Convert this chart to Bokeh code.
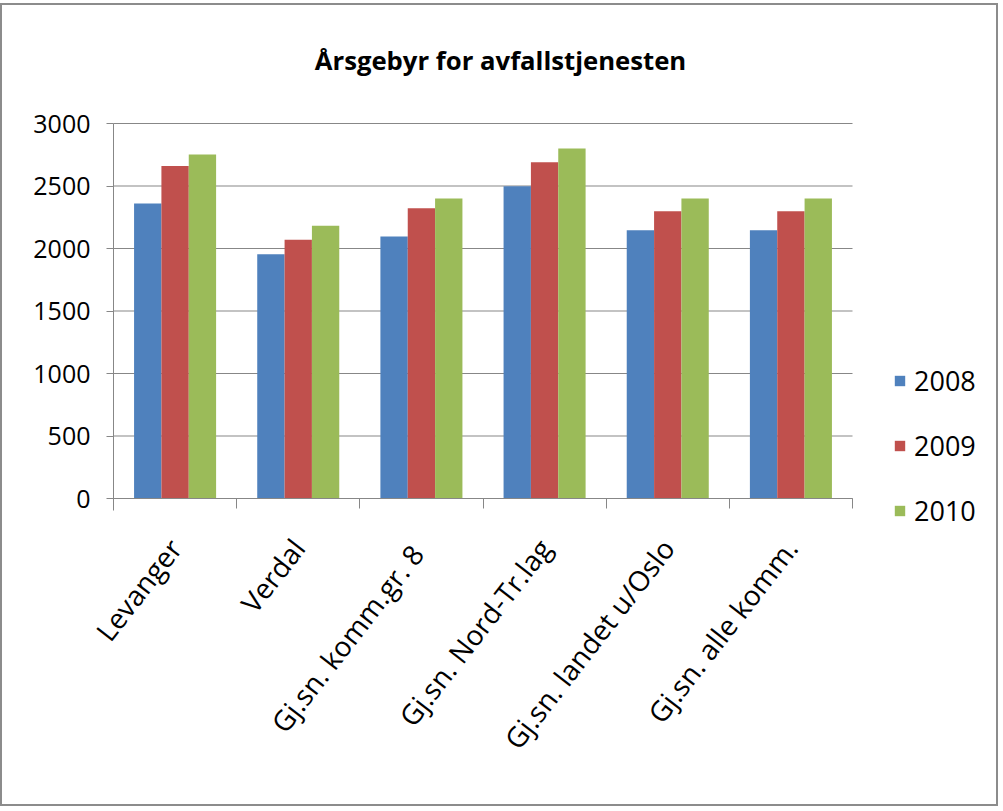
from bokeh.plotting import figure
from bokeh.models import (ColumnDataSource, Range1d, LinearAxis, FixedTicker,
                          Legend, LegendItem, Label)
from bokeh.transform import dodge
from bokeh.embed import file_html
from bokeh.resources import INLINE

categories = ["Levanger", "Verdal", "Gj.sn. komm.gr.  8", "Gj.sn. Nord-Tr.lag",
              "Gj.sn. landet u/Oslo", "Gj.sn. alle komm."]
years = ["2008", "2009", "2010"]
v2008 = [2360, 1955, 2097, 2499, 2147, 2147]
v2009 = [2660, 2070, 2323, 2691, 2299, 2299]
v2010 = [2752, 2182, 2400, 2800, 2400, 2400]
colors = ["#4F81BD", "#C0504D", "#9BBB59"]
y_ticks = [0, 500, 1000, 1500, 2000, 2500, 3000]
title_text = "Årsgebyr for avfallstjenesten"

FONT = "Open Sans"
GREY = "#878787"

n = len(categories)
centers = [i + 0.5 for i in range(n)]
src = ColumnDataSource(dict(x=centers, cat=categories, y2008=v2008, y2009=v2009, y2010=v2010))

# Layout geometry (pixels): the frame covers the whole canvas so that axis labels,
# legend and title are never clipped; the plotting area itself spans 111..850 x 118..493.
W, H = 998, 803
PX_PER_CAT = 739 / 6
PX_PER_UNIT_Y = 1 / 8
x0_px, y0_px = 111, 493

p = figure(width=W, height=H, output_backend="svg", toolbar_location=None,
           x_range=Range1d(-x0_px / PX_PER_CAT, (W - x0_px) / PX_PER_CAT),
           y_range=Range1d(-(H - y0_px) / PX_PER_UNIT_Y, y0_px / PX_PER_UNIT_Y),
           x_axis_location=None, y_axis_location=None,
           min_border_left=0, min_border_right=0, min_border_top=0, min_border_bottom=0)
p.background_fill_color = "white"
p.border_fill_color = "white"
p.outline_line_color = None
p.styles = {"border": "2px solid #8c8c8c", "margin-top": "3px"}
p.xgrid.visible = False
p.ygrid.visible = False

# title
p.add_layout(Label(x=(498 - x0_px) / PX_PER_CAT, y=(y0_px - 55) / PX_PER_UNIT_Y,
                   text=title_text, text_font=FONT, text_font_size="25.7px",
                   text_font_style="bold", text_align="center", text_baseline="middle",
                   text_color="black"))

# horizontal gridlines across the category area
p.segment(x0=0, x1=n, y0=y_ticks, y1=y_ticks, line_color=GREY, line_width=1, level="underlay")

bw = 0.222
renderers = []
for i, (yr, col) in enumerate(zip(years, colors)):
    r = p.vbar(x=dodge("x", (i - 1) * bw), top="y" + yr, width=bw,
               source=src, fill_color=col, line_color=None)
    renderers.append(r)

# y axis at x = 0
ya = LinearAxis(fixed_location=0, ticker=FixedTicker(ticks=y_ticks), bounds=(-96, 3000),
                axis_line_color=GREY, major_tick_line_color=GREY, major_tick_out=7,
                major_tick_in=0, minor_tick_line_color=None, major_label_text_font=FONT,
                major_label_text_font_size="25px", major_label_text_color="black",
                major_label_standoff=16)
p.add_layout(ya, "left")

# category axis line with boundary tick marks at y = 0
tick_axis = LinearAxis(fixed_location=0, bounds=(0, n),
                       ticker=FixedTicker(ticks=list(range(n + 1))),
                       axis_line_color=GREY, major_tick_line_color=GREY,
                       major_tick_out=10, major_tick_in=0, minor_tick_line_color=None,
                       major_label_text_font_size="1px", major_label_text_alpha=0,
                       major_label_standoff=0)
p.add_layout(tick_axis, "below")

label_axis = LinearAxis(fixed_location=0, ticker=FixedTicker(ticks=centers),
                        major_label_overrides={c: name for c, name in zip(centers, categories)},
                        axis_line_color=None, major_tick_line_color=None,
                        minor_tick_line_color=None, major_tick_out=10, major_tick_in=0,
                        major_label_orientation=0.91,
                        major_label_text_font=FONT, major_label_text_font_size="28px",
                        major_label_text_color="black", major_label_standoff=34)
p.add_layout(label_axis, "below")

legend = Legend(items=[LegendItem(label=yr, renderers=[r]) for yr, r in zip(years, renderers)],
                location=(891, 279), orientation="vertical",
                glyph_width=13, glyph_height=13, label_text_font=FONT,
                label_text_font_size="27px", label_text_color="black",
                spacing=28, border_line_color=None, background_fill_alpha=0,
                label_standoff=8)
p.add_layout(legend, "center")

open("out.html", "w").write(file_html(p, INLINE))
